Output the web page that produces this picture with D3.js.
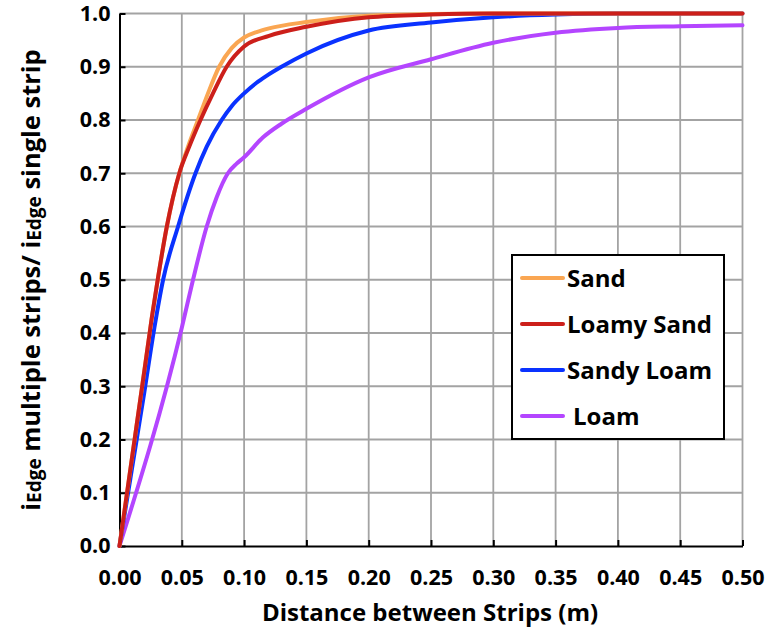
<!DOCTYPE html>
<html>
<head>
<meta charset="utf-8">
<script src="https://cdn.jsdelivr.net/npm/d3@7"></script>
<style>
  html, body { margin: 0; padding: 0; background: #fff; }
  svg { display: block; }
  text { font-family: "Open Sans", Lato, sans-serif; font-weight: bold; fill: #000; }
</style>
</head>
<body>
<div id="chart"></div>
<script>
// Distance between strips (m) and the edge ratio for each soil type
const sandX = [0, 0.01, 0.02, 0.026, 0.031, 0.038, 0.048, 0.055, 0.063, 0.071, 0.08, 0.09, 0.10, 0.11, 0.12, 0.15, 0.20, 0.25, 0.30, 0.35, 0.40, 0.45, 0.50];
const sandY = [0, 0.165, 0.33, 0.43, 0.505, 0.60, 0.70, 0.75, 0.80, 0.85, 0.90, 0.935, 0.955, 0.965, 0.972, 0.984, 0.996, 0.999, 1.0, 1.0, 1.0, 1.0, 1.0];

const loamySandX = [0, 0.01, 0.02, 0.026, 0.031, 0.038, 0.048, 0.056, 0.065, 0.075, 0.086, 0.10, 0.12, 0.15, 0.20, 0.25, 0.30, 0.35, 0.40, 0.45, 0.50];
const loamySandY = [0, 0.165, 0.33, 0.43, 0.505, 0.60, 0.70, 0.75, 0.80, 0.85, 0.90, 0.938, 0.958, 0.975, 0.993, 0.998, 1.0, 1.0, 1.0, 1.0, 1.0];

const sandyLoamX = [0, 0.01, 0.02, 0.028, 0.035, 0.047, 0.061, 0.07, 0.082, 0.09, 0.10, 0.11, 0.118, 0.13, 0.15, 0.20, 0.25, 0.30, 0.35, 0.40, 0.45, 0.50];
const sandyLoamY = [0, 0.145, 0.29, 0.41, 0.50, 0.60, 0.70, 0.75, 0.80, 0.826, 0.85, 0.87, 0.883, 0.90, 0.925, 0.968, 0.983, 0.993, 0.998, 1.0, 1.0, 1.0];

const loamX = [0, 0.05, 0.059, 0.07, 0.078, 0.087, 0.094, 0.10, 0.115, 0.13, 0.15, 0.20, 0.25, 0.30, 0.35, 0.40, 0.45, 0.50];
const loamY = [0, 0.41, 0.50, 0.60, 0.655, 0.70, 0.718, 0.73, 0.767, 0.793, 0.821, 0.88, 0.914, 0.945, 0.964, 0.973, 0.976, 0.978];

const seriesNames = ["Sand", "Loamy Sand", "Sandy Loam", "Loam"];
const seriesColors = ["#FAA652", "#CC1F1A", "#0A32FF", "#B445FF"];

const xTicks = [0, 0.05, 0.10, 0.15, 0.20, 0.25, 0.30, 0.35, 0.40, 0.45, 0.50];
const yTicks = [0, 0.1, 0.2, 0.3, 0.4, 0.5, 0.6, 0.7, 0.8, 0.9, 1.0];

const series = [
  { name: seriesNames[0], color: seriesColors[0], xs: sandX, ys: sandY },
  { name: seriesNames[1], color: seriesColors[1], xs: loamySandX, ys: loamySandY },
  { name: seriesNames[2], color: seriesColors[2], xs: sandyLoamX, ys: sandyLoamY },
  { name: seriesNames[3], color: seriesColors[3], xs: loamX, ys: loamY }
];

const W = 766, H = 632;
const margin = { left: 119.5, right: 23.5, top: 13.5, bottom: 86 };
const innerW = W - margin.left - margin.right;
const innerH = H - margin.top - margin.bottom;

const svg = d3.select("#chart").append("svg").attr("width", W).attr("height", H);
const g = svg.append("g").attr("transform", `translate(${margin.left},${margin.top})`);

const x = d3.scaleLinear().domain([0, 0.5]).range([0, innerW]);
const y = d3.scaleLinear().domain([0, 1]).range([innerH, 0]);

// grid
g.append("g").selectAll("line").data(xTicks.slice(1)).join("line")
  .attr("x1", d => x(d)).attr("x2", d => x(d)).attr("y1", 0).attr("y2", innerH)
  .attr("stroke", "#a3a3a3").attr("stroke-width", 1.8);
g.append("g").selectAll("line").data(yTicks.slice(1)).join("line")
  .attr("x1", 0).attr("x2", innerW).attr("y1", d => y(d)).attr("y2", d => y(d))
  .attr("stroke", "#a3a3a3").attr("stroke-width", 1.8);

// axes with inward ticks
const xAxis = g.append("g").attr("transform", `translate(0,${innerH})`)
  .call(d3.axisBottom(x).tickValues(xTicks).tickSize(-6).tickSizeOuter(0).tickPadding(24).tickFormat(d3.format(".2f")));
const yAxis = g.append("g")
  .call(d3.axisLeft(y).tickValues(yTicks).tickSize(-6).tickSizeOuter(0).tickPadding(9).tickFormat(d3.format(".1f")));
[xAxis, yAxis].forEach(a => {
  a.select(".domain").attr("stroke", "#000").attr("stroke-width", 2);
  a.selectAll(".tick line").attr("stroke", "#000").attr("stroke-width", 2);
  a.selectAll(".tick text").attr("font-size", 21.5).attr("font-family", "'Open Sans', sans-serif")
    .attr("font-weight", "bold").attr("fill", "#000");
});

// series lines
const line = d3.line().x(d => x(d[0])).y(d => y(d[1])).curve(d3.curveMonotoneX);
const drawOrder = [3, 2, 0, 1];
drawOrder.forEach(i => {
  const s = series[i];
  g.append("path")
    .datum(s.xs.map((v, k) => [v, s.ys[k]]))
    .attr("fill", "none").attr("stroke", s.color).attr("stroke-width", 4)
    .attr("stroke-linejoin", "round").attr("stroke-linecap", "round")
    .attr("d", line);
});

// legend
const lg = svg.append("g").attr("transform", "translate(512,255)");
lg.append("rect").attr("width", 212).attr("height", 184)
  .attr("fill", "#fff").attr("stroke", "#000").attr("stroke-width", 2);
series.forEach((s, i) => {
  const yy = 23 + i * 46;
  lg.append("line").attr("x1", 10).attr("x2", 51).attr("y1", yy).attr("y2", yy)
    .attr("stroke", s.color).attr("stroke-width", 4).attr("stroke-linecap", "round");
  lg.append("text").attr("x", i === 3 ? 61 : 55).attr("y", yy + 9)
    .attr("font-size", 24).text(s.name);
});

// axis titles
svg.append("text").attr("x", 430).attr("y", 621).attr("text-anchor", "middle")
  .attr("font-size", 24).text("Distance between Strips (m)");

const yt = svg.append("text").attr("transform", "translate(40,280) rotate(-90)")
  .attr("text-anchor", "middle").attr("font-size", 25.5);
yt.append("tspan").text("i");
yt.append("tspan").attr("font-size", 19).attr("dy", 1).text("Edge");
yt.append("tspan").attr("dy", -1).text(" multiple strips/ i");
yt.append("tspan").attr("font-size", 19).attr("dy", 1).text("Edge");
yt.append("tspan").attr("dy", -1).text(" single strip");
</script>
</body>
</html>
